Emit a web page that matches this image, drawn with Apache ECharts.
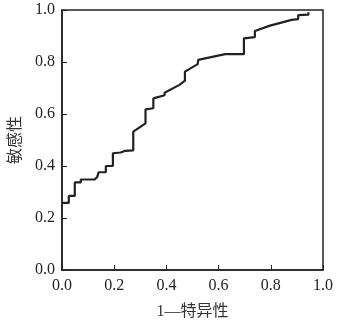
<!DOCTYPE html>
<html><head><meta charset="utf-8">
<script src="https://cdn.jsdelivr.net/npm/echarts@6/dist/echarts.min.js"></script>
<style>html,body{margin:0;padding:0;background:#fff}#c{width:341px;height:320px}</style>
</head><body><div id="c"></div>
<script>
var fpr = [0,0.026,0.026,0.049,0.049,0.072,0.072,0.125,0.135,0.140,0.168,0.168,0.195,0.195,0.225,0.24,0.273,0.273,0.32,0.32,0.35,0.35,0.393,0.393,0.45,0.471,0.471,0.52,0.522,0.625,0.697,0.697,0.739,0.739,0.797,0.797,0.88,0.905,0.905,0.944,0.944];
var tpr = [0.258,0.258,0.285,0.285,0.337,0.337,0.348,0.348,0.358,0.376,0.376,0.400,0.400,0.449,0.452,0.458,0.46,0.532,0.564,0.618,0.622,0.66,0.672,0.682,0.712,0.728,0.763,0.792,0.808,0.83,0.83,0.891,0.896,0.919,0.94,0.945,0.962,0.965,0.98,0.982,0.991];
var ticks = [0,0.2,0.4,0.6,0.8,1.0];
var xName = '1—特异性', yName = '敏感性';
var pts = fpr.map(function(v,i){return [v,tpr[i]];});
var font = '"Liberation Serif","Noto Sans CJK SC",serif';
var axisCommon = {
  min:0, max:1, interval:0.2,
  axisLine:{show:true,lineStyle:{color:'#222',width:1.5}},
  axisTick:{show:true,inside:true,length:5,lineStyle:{color:'#222',width:1}},
  splitLine:{show:false},
  axisLabel:{color:'#222',fontSize:16,fontFamily:font,formatter:function(v){return v.toFixed(1);}},
  nameTextStyle:{color:'#333',fontSize:16,fontFamily:font}
};
var chart = echarts.init(document.getElementById('c'),null,{renderer:'canvas'});
chart.setOption({
  animation:false,
  grid:{left:62,right:18,top:10,bottom:50,show:true,borderColor:'#222',borderWidth:1.5,containLabel:false,outerBoundsMode:'none'},
  xAxis:Object.assign({},axisCommon,{type:'value',name:xName,nameLocation:'middle',nameGap:34,axisLabel:Object.assign({},axisCommon.axisLabel,{margin:8})}),
  yAxis:Object.assign({},axisCommon,{type:'value',name:yName,nameLocation:'middle',nameGap:37,nameRotate:90,axisLabel:Object.assign({},axisCommon.axisLabel,{margin:7})}),
  series:[{type:'line',data:pts,symbol:'none',lineStyle:{color:'#222',width:2.2},silent:true}]
});
</script></body></html>
